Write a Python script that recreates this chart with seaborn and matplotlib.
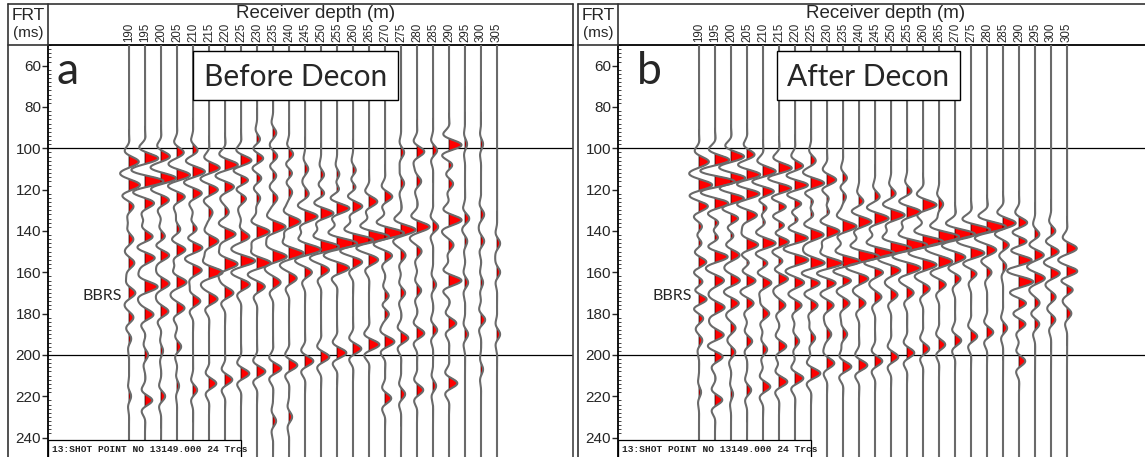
import numpy as np
import pandas as pd
import matplotlib
matplotlib.use("Agg")
import matplotlib.pyplot as plt
import seaborn as sns
from matplotlib.patches import Rectangle
from matplotlib.lines import Line2D

# ---------------- data ----------------
depths = list(range(190, 310, 5))                      # receiver depth (m), 24 traces
time_ticks = [60, 80, 100, 120, 140, 160, 180, 200, 220, 240]   # FRT (ms)

# picked positive peaks per trace: times (ms) and amplitudes (fraction of trace spacing)
before_times = [
    [106.5, 117.8, 128, 144, 155.5, 170, 182, 192, 220],
    [104.8, 116, 126.5, 142.8, 153, 167, 180.5, 200, 222],
    [104, 114.5, 125, 143, 151.6, 165.5, 179, 198, 220],
    [102, 113, 123.4, 139.5, 149, 164.8, 177.4, 196, 215],
    [101, 111.3, 121.7, 139.6, 148, 159, 174, 217],
    [109.5, 120, 131, 145, 160, 173, 213.8],
    [108, 118.6, 131, 141.5, 156, 170, 212],
    [106, 115.4, 124, 137, 142.6, 154.5, 166, 209],
    [96, 104.8, 114.4, 124, 140.4, 155.5, 167, 208],
    [92.5, 104, 113, 124, 138, 152.4, 165, 206.5, 232],
    [103, 112, 121, 135.5, 150.8, 163, 205, 230],
    [110, 122, 133, 149, 160, 203],
    [113, 122, 131.4, 147.6, 159, 201],
    [113, 120, 129, 146, 158, 199],
    [111, 119, 128, 144.4, 155, 197],
    [125.8, 142.8, 154, 195],
    [123.4, 141, 152, 171.8, 179.8, 193.6, 221],
    [102, 117, 139.5, 152, 170, 191.8, 219],
    [101.6, 116, 138, 150, 168.8, 189.5, 217],
    [101, 138, 166, 188, 215],
    [98.4, 108, 117, 134.7, 147, 164, 184.7, 213.7],
    [98, 134, 145, 165, 190],
    [98, 132, 145, 165, 183, 207],
    [146, 160, 190],
]
before_amps = [
    [0.45, 0.5, 0.2, 0.2, 0.25, 0.3, 0.2, 0.1, 0.1],
    [0.6, 0.85, 0.4, 0.35, 0.45, 0.6, 0.4, 0.15, 0.35],
    [0.4, 0.7, 0.35, 0.2, 0.4, 0.4, 0.35, 0.1, 0.2],
    [0.3, 0.6, 0.35, 0.15, 0.4, 0.45, 0.35, 0.2, 0.1],
    [0.2, 0.55, 0.4, 0.2, 0.45, 0.4, 0.35, 0.2],
    [0.5, 0.4, 0.15, 0.45, 0.65, 0.4, 0.35],
    [0.6, 0.4, 0.15, 0.5, 0.6, 0.4, 0.35],
    [0.5, 0.35, 0.25, 0.15, 0.45, 0.65, 0.4, 0.4],
    [0.15, 0.3, 0.2, 0.15, 0.6, 0.65, 0.35, 0.4],
    [0.15, 0.2, 0.15, 0.2, 0.6, 0.65, 0.35, 0.4, 0.15],
    [0.2, 0.15, 0.15, 0.55, 0.7, 0.35, 0.4, 0.15],
    [0.15, 0.15, 0.6, 0.75, 0.3, 0.4],
    [0.15, 0.15, 0.6, 0.85, 0.35, 0.4],
    [0.15, 0.15, 0.6, 0.95, 0.55, 0.45],
    [0.15, 0.15, 0.45, 0.95, 0.4, 0.4],
    [0.4, 0.95, 0.4, 0.5],
    [0.35, 0.9, 0.3, 0.2, 0.2, 0.45, 0.3],
    [0.15, 0.15, 0.7, 0.2, 0.2, 0.35, 0.2],
    [0.35, 0.2, 0.6, 0.2, 0.2, 0.35, 0.3],
    [0.2, 0.25, 0.15, 0.2, 0.15],
    [0.6, 0.15, 0.2, 0.6, 0.2, 0.6, 0.35, 0.4],
    [0.1, 0.2, 0.1, 0.15, 0.15],
    [0.1, 0.15, 0.15, 0.1, 0.2, 0.1],
    [0.15, 0.15, 0.15],
]

after_times = [
    [106.5, 117.8, 128, 138, 146, 155, 165, 173, 182, 193, 218],
    [105.7, 116.1, 126.6, 136, 143.4, 152.4, 164, 177, 190.4, 200.9, 221.8],
    [104, 114.5, 124.2, 133.9, 142, 151.6, 164, 175, 187, 198.7, 219],
    [103.3, 112.9, 121.8, 132.3, 146.8, 155, 164, 175, 193.4, 217],
    [111.3, 121, 128.2, 135, 146, 155.6, 165, 180, 197.4, 215.4],
    [109.7, 119.4, 128, 137.8, 145, 155, 163, 176, 195.8, 213],
    [108.9, 117.8, 126.6, 134.6, 143.4, 154, 165, 176, 193.4, 211.3],
    [106, 117, 125, 132, 141.8, 155.6, 165, 176, 191.8, 208.9],
    [115.4, 124, 131, 140.2, 155.7, 165, 176, 190, 204],
    [114.6, 123, 137.8, 154.9, 163.5, 175, 190, 205.7],
    [126, 135.5, 152.4, 163, 175, 205],
    [123.4, 133.9, 150.8, 159.5, 172, 203],
    [122, 132.3, 148.4, 159, 171, 201],
    [121, 130.7, 146.8, 158, 170, 199],
    [127.4, 145.2, 156.4, 168, 197],
    [127, 142.8, 154.9, 166, 195],
    [141.6, 152.8, 163, 193],
    [139.5, 150.8, 160.5, 191],
    [138, 149.3, 160, 189],
    [136.2, 146.8, 157, 187],
    [136.2, 145.2, 154, 164.6, 175, 185, 203],
    [141.8, 151.6, 162.9, 175, 185],
    [140.2, 150, 160.5, 172, 183],
    [148.4, 159.7, 168, 180],
]
after_amps = [
    [0.45, 0.6, 0.4, 0.15, 0.15, 0.35, 0.2, 0.4, 0.2, 0.15, 0.1],
    [0.65, 0.9, 0.6, 0.2, 0.2, 0.6, 0.4, 0.45, 0.4, 0.35, 0.35],
    [0.6, 0.65, 0.6, 0.35, 0.15, 0.4, 0.4, 0.35, 0.2, 0.2, 0.1],
    [0.35, 0.65, 0.6, 0.45, 0.55, 0.15, 0.4, 0.3, 0.25, 0.2],
    [0.6, 0.6, 0.35, 0.15, 0.6, 0.2, 0.4, 0.3, 0.2, 0.35],
    [0.6, 0.6, 0.35, 0.35, 0.55, 0.2, 0.45, 0.3, 0.35, 0.4],
    [0.4, 0.65, 0.35, 0.2, 0.6, 0.6, 0.4, 0.3, 0.2, 0.4],
    [0.2, 0.65, 0.2, 0.15, 0.6, 0.65, 0.4, 0.3, 0.2, 0.45],
    [0.45, 0.15, 0.15, 0.6, 0.75, 0.4, 0.3, 0.2, 0.35],
    [0.2, 0.15, 0.65, 0.85, 0.4, 0.3, 0.2, 0.4],
    [0.2, 0.6, 0.95, 0.4, 0.3, 0.4],
    [0.2, 0.65, 0.95, 0.4, 0.3, 0.35],
    [0.2, 0.65, 0.95, 0.4, 0.3, 0.35],
    [0.2, 0.65, 0.95, 0.6, 0.3, 0.35],
    [0.65, 0.95, 0.6, 0.3, 0.3],
    [0.2, 0.95, 0.6, 0.3, 0.3],
    [0.95, 0.45, 0.25, 0.3],
    [0.9, 0.6, 0.25, 0.3],
    [0.9, 0.4, 0.2, 0.3],
    [0.6, 0.25, 0.15, 0.2],
    [0.4, 0.4, 0.6, 0.65, 0.3, 0.3, 0.3],
    [0.2, 0.4, 0.45, 0.2, 0.2],
    [0.2, 0.35, 0.4, 0.2, 0.2],
    [0.45, 0.5, 0.3, 0.2],
]

# ---------------- style ----------------
sns.set_style("white")
plt.rcParams["font.family"] = ["Liberation Sans", "DejaVu Sans"]

W, H = 1145, 457
fig = plt.figure(figsize=(W / 100, H / 100), dpi=100)


def fx(px):
    return px / W


def fy(py):
    return 1 - py / H


T_TOP, T_BOT = 50.0, 249.4          # time at y=45 px and y=457 px
PX_PER_M = 3.2                       # 16 px per 5 m trace spacing
GAIN = 6.5                           # display gain: 1.0 amplitude -> 6.5 m
t = np.arange(45.0, 255.0, 0.25)


def wavelet(tt, period=12.5, width=6.5):
    return np.cos(2 * np.pi * tt / period) * np.exp(-(tt / width) ** 2)


def panel(off, times, amps, title, box_px, letter, right_px, right_spine):
    left_px = 48 + off
    ax = fig.add_axes([fx(left_px), 0, fx(right_px - left_px), fy(45)])
    x_lo = 190 - (129 + off - left_px) / PX_PER_M
    x_hi = 190 + (right_px - (129 + off)) / PX_PER_M
    ax.set_xlim(x_lo, x_hi)
    ax.set_ylim(T_BOT, T_TOP)

    rows = []
    for d, ts, am in zip(depths, times, amps):
        sig = np.zeros_like(t)
        for tk, ak in zip(ts, am):
            sig += ak * wavelet(t - tk)
        xs = d + GAIN * sig
        rows.append(pd.DataFrame({"trace": d, "t": t, "x": xs}))
        ax.fill_betweenx(t, d, xs, where=xs > d, interpolate=True,
                         facecolor="#ff0000", edgecolor="black", lw=0.5, zorder=2)
    df = pd.concat(rows, ignore_index=True)
    sns.lineplot(data=df, x="x", y="t", units="trace", estimator=None, sort=False,
                 orient="y", color="#6a6a6a", lw=1.5, ax=ax, legend=False, zorder=3)

    for yl in (100, 200):
        ax.axhline(yl, color="black", lw=0.9, zorder=1)

    ax.set_xlabel("")
    ax.set_ylabel("")
    ax.xaxis.tick_top()
    ax.set_xticks(depths)
    ax.set_xticklabels([str(d) for d in depths], rotation=90, fontsize=8.3)
    ax.tick_params(axis="x", length=0, pad=2)
    ax.set_yticks(time_ticks)
    ax.set_yticklabels([str(v) for v in time_ticks], fontsize=11)
    ax.tick_params(axis="y", length=4, width=1, direction="out", pad=1, left=True)
    ax.set_yticks(np.arange(50, 250, 2), minor=True)
    ax.tick_params(axis="y", which="minor", length=2, width=0.6, direction="in",
                   left=True, labelleft=False)
    for s in ("left", "top"):
        ax.spines[s].set_color("black")
        ax.spines[s].set_linewidth(1.3)
    ax.spines["bottom"].set_visible(False)
    if right_spine:
        ax.spines["right"].set_color("#444444")
        ax.spines["right"].set_linewidth(1.2)
    else:
        ax.spines["right"].set_visible(False)

    # title box
    bx0, bx1, by0, by1 = box_px
    X0 = 190 + (bx0 - (129 + off)) / PX_PER_M
    X1 = 190 + (bx1 - (129 + off)) / PX_PER_M
    Y0 = 100 + (by0 - 148.3) / 2.066
    Y1 = 100 + (by1 - 148.3) / 2.066
    ax.add_patch(Rectangle((X0, Y0), X1 - X0, Y1 - Y0, facecolor="white",
                           edgecolor="black", lw=1.0, zorder=6))
    ax.text((X0 + X1) / 2, (Y0 + Y1) / 2 + 0.8, title, ha="center", va="center",
            fontsize=21.5, family=["Lato", "DejaVu Sans"], zorder=7)

    # shot point box
    sx1 = 190 + (241 + off - (129 + off)) / PX_PER_M
    sy0 = 100 + (440 - 148.3) / 2.066
    rect = Rectangle((x_lo, sy0), sx1 - x_lo, 20, facecolor="white",
                     edgecolor="black", lw=0.9, zorder=6)
    ax.add_patch(rect)
    txt = ax.text(x_lo + 4 / PX_PER_M, 100 + (452 - 148.3) / 2.066,
                  "13:SHOT POINT NO 13149.000 24 Trcs", ha="left", va="baseline",
                  fontsize=6.8, family=["Liberation Mono", "DejaVu Sans Mono"],
                  fontweight="bold", color="#222222", zorder=7)
    txt.set_clip_path(rect)

    # figure-level header frame
    top_end = right_px if right_spine else W
    lines = [
        ((8 + off, top_end), (4, 4)),
        ((8 + off, 8 + off), (4, 460)),
        ((48 + off, 48 + off), (4, 45)),
        ((8 + off, 48 + off), (45, 45)),
    ]
    if right_spine:
        lines.append(((right_px, right_px), (4, 45)))
    for xs_, ys_ in lines:
        fig.add_artist(Line2D([fx(xs_[0]), fx(xs_[1])], [fy(ys_[0]), fy(ys_[1])],
                              color="#333333", lw=1.2))

    fig.text(fx(28 + off), fy(16), "FRT", ha="center", va="center", fontsize=12.5)
    fig.text(fx(28 + off), fy(33), "(ms)", ha="center", va="center", fontsize=11)
    fig.text(fx(316 + off), fy(13), "Receiver depth (m)", ha="center", va="center",
             fontsize=13.5)
    fig.text(fx(letter[1] + off), fy(84), letter[0], ha="center", va="baseline",
             fontsize=32, family=["Lato", "DejaVu Sans"])
    fig.text(fx(83 + off), fy(296), "BBRS", ha="left", va="center", fontsize=11.5,
             family=["Lato", "DejaVu Sans"])
    return ax


panel(0, before_times, before_amps, "Before Decon", (193, 398, 51, 100), ("a", 68), 573, True)
panel(570, after_times, after_amps, "After Decon", (777, 960, 51, 100), ("b", 79), 1145, False)

fig.savefig("out.png", dpi=100)
